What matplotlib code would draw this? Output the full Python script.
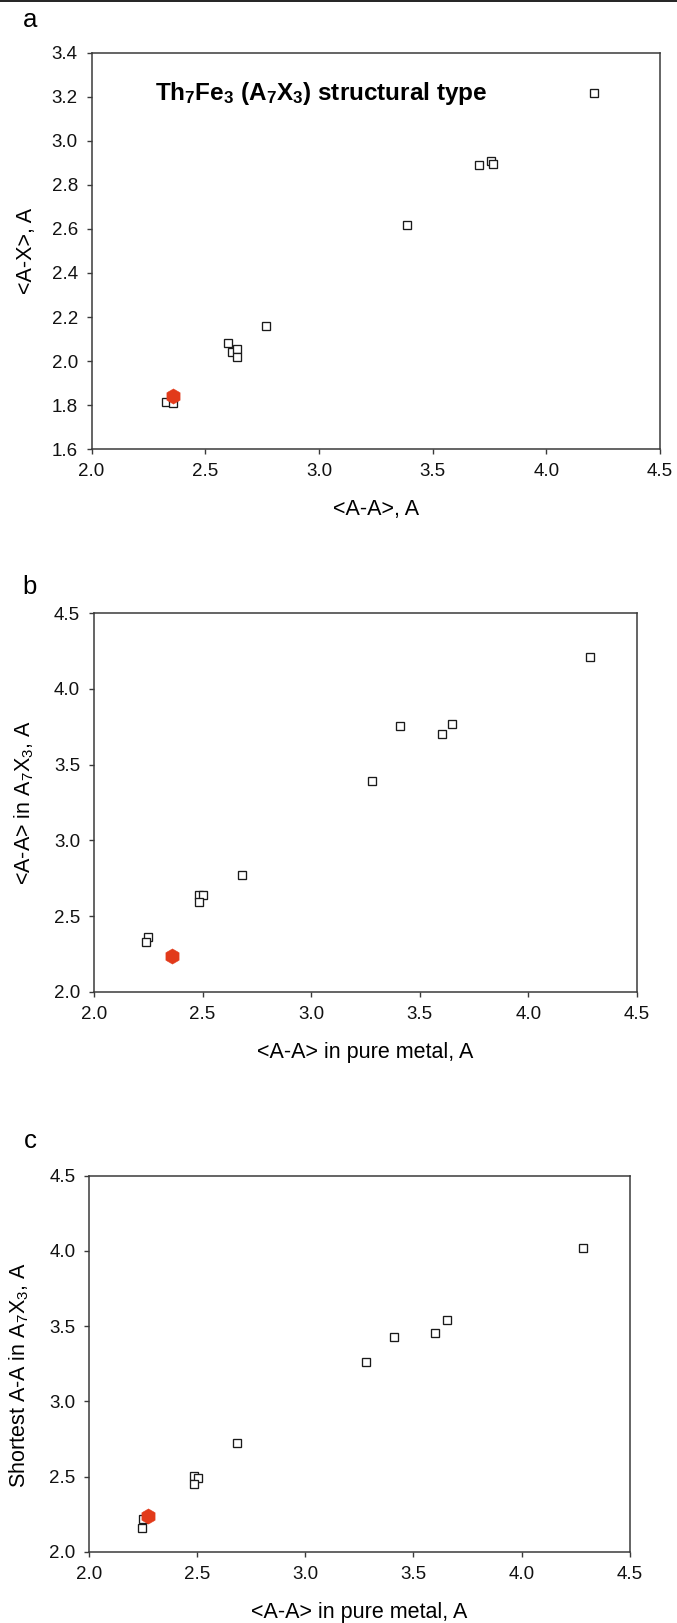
import matplotlib
matplotlib.use("Agg")
import matplotlib.pyplot as plt
from matplotlib.lines import Line2D

plt.rcParams['font.family'] = ['Liberation Sans', 'DejaVu Sans']
plt.rcParams['mathtext.fontset'] = 'custom'
plt.rcParams['mathtext.rm'] = 'Liberation Sans'
plt.rcParams['mathtext.it'] = 'Liberation Sans:italic'
plt.rcParams['mathtext.bf'] = 'Liberation Sans:bold'

# ---------------- data ----------------
# panel a : <A-A> vs <A-X>
a_x = [4.211, 3.755, 3.765, 3.702, 3.389, 2.769, 2.600, 2.619, 2.640, 2.640, 2.328, 2.360]
a_y = [3.217, 2.910, 2.895, 2.889, 2.617, 2.161, 2.080, 2.041, 2.055, 2.019, 1.815, 1.810]
a_red_x = [2.360]
a_red_y = [1.840]

# panel b : <A-A> in pure metal vs <A-A> in A7X3
b_x = [4.285, 3.411, 3.600, 3.649, 3.280, 2.681, 2.483, 2.500, 2.483, 2.250, 2.240]
b_y = [4.211, 3.755, 3.700, 3.766, 3.391, 2.771, 2.640, 2.640, 2.595, 2.359, 2.330]
b_red_x = [2.360]
b_red_y = [2.239]

# panel c : <A-A> in pure metal vs shortest A-A in A7X3
c_x = [4.286, 3.653, 3.601, 3.411, 3.279, 2.681, 2.486, 2.502, 2.486, 2.250, 2.242]
c_y = [4.018, 3.543, 3.453, 3.427, 3.262, 2.721, 2.501, 2.491, 2.453, 2.219, 2.162]
c_red_x = [2.270]
c_red_y = [2.241]

xticks = [2.0, 2.5, 3.0, 3.5, 4.0, 4.5]
a_yticks = [1.6, 1.8, 2.0, 2.2, 2.4, 2.6, 2.8, 3.0, 3.2, 3.4]
bc_yticks = [2.0, 2.5, 3.0, 3.5, 4.0, 4.5]

RED = '#E23A1A'
SPINE = '#3a3a3a'

fig = plt.figure(figsize=(6.77, 16.23), dpi=100)

# top rule
fig.add_artist(Line2D([0, 1], [1 - 1.2/1623, 1 - 1.2/1623], transform=fig.transFigure,
                      color='#222222', lw=1.4))

def style(ax, yticks, ylim):
    ax.set_xlim(2.0, 4.5)
    ax.set_ylim(*ylim)
    ax.set_xticks(xticks)
    ax.set_yticks(yticks)
    ax.set_xticklabels([f"{v:.1f}" for v in xticks])
    ax.set_yticklabels([f"{v:.1f}" for v in yticks])
    for s in ax.spines.values():
        s.set_color(SPINE)
        s.set_linewidth(1.1)
    ax.tick_params(axis='both', direction='out', length=3.6, width=1.0, color=SPINE,
                   labelsize=13.5, pad=6.3, labelcolor='#111111')
    ax.tick_params(top=False, right=False)

def draw(ax, xs, ys, rx, ry):
    ax.plot(xs, ys, linestyle='none', marker='s', markersize=5.6, markerfacecolor='white',
            markeredgecolor='#1a1a1a', markeredgewidth=0.95, zorder=3)
    ax.plot(rx, ry, linestyle='none', marker='h', markersize=11, markerfacecolor=RED,
            markeredgecolor=RED, markeredgewidth=0.3, zorder=4)

LBL = 15.5

# ---- panel a ----
ax1 = fig.add_axes([0.1352, 0.7232, 0.8397, 0.2444])
draw(ax1, a_x, a_y, a_red_x, a_red_y)
style(ax1, a_yticks, (1.6, 3.4))
ax1.set_xlabel('<A-A>, A', fontsize=LBL)
ax1.set_ylabel('<A-X>, A', fontsize=LBL)
ax1.xaxis.set_label_coords(0.5, -0.153)
ax1.xaxis.label.set_va('center')
ax1.yaxis.set_label_coords(-0.115, 0.5)
ax1.yaxis.label.set_va('center')
ax1.text(0.111, 0.898, r'Th$_\mathbf{7}$Fe$_\mathbf{3}$ (A$_\mathbf{7}$X$_\mathbf{3}$) structural type',
         transform=ax1.transAxes, fontsize=17.5, fontweight='bold', ha='left', va='center')

# ---- panel b ----
ax2 = fig.add_axes([0.1388, 0.3889, 0.8021, 0.2334])
draw(ax2, b_x, b_y, b_red_x, b_red_y)
style(ax2, bc_yticks, (2.0, 4.5))
ax2.set_xlabel('<A-A> in pure metal, A', fontsize=LBL)
ax2.set_ylabel(r'<A-A> in A$_7$X$_3$, A', fontsize=LBL)
ax2.xaxis.set_label_coords(0.5, -0.159)
ax2.xaxis.label.set_va('center')
ax2.yaxis.set_label_coords(-0.128, 0.5)
ax2.yaxis.label.set_va('center')

# ---- panel c ----
ax3 = fig.add_axes([0.1321, 0.0438, 0.7978, 0.2319])
draw(ax3, c_x, c_y, c_red_x, c_red_y)
style(ax3, bc_yticks, (2.0, 4.5))
ax3.set_xlabel('<A-A> in pure metal, A', fontsize=LBL)
ax3.set_ylabel(r'Shortest A-A in A$_7$X$_3$, A', fontsize=LBL)
ax3.xaxis.set_label_coords(0.5, -0.162)
ax3.xaxis.label.set_va('center')
ax3.yaxis.set_label_coords(-0.13, 0.47)
ax3.yaxis.label.set_va('center')

# panel letters
for lab, ypix in [('a', 20), ('b', 587), ('c', 1141)]:
    fig.text(30/677, 1 - ypix/1623, lab, fontsize=18.5, ha='center', va='center')

fig.savefig('out.png', dpi=100, facecolor='white')
